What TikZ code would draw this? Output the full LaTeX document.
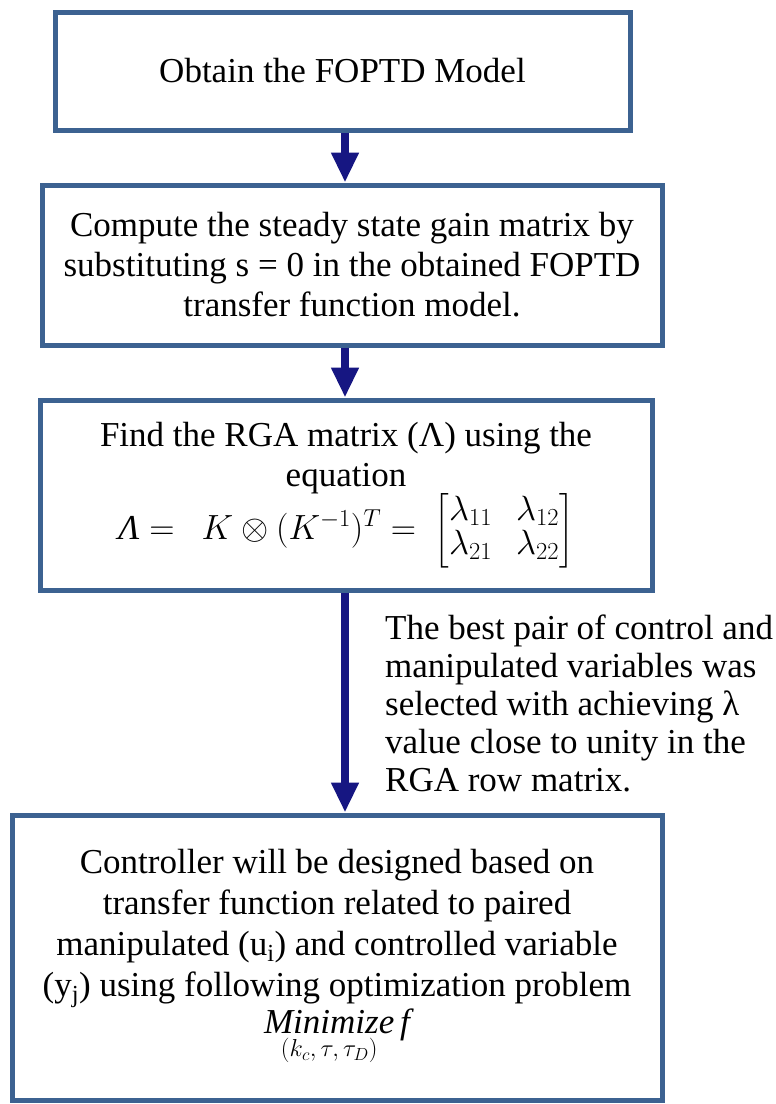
\RequirePackage{fix-cm}
\documentclass[tikz,border=0pt]{standalone}
\usepackage{amsmath}
\usepackage{fontspec}
\setmainfont{Liberation Serif}
\usetikzlibrary{arrows.meta,shadows}
\definecolor{boxblue}{RGB}{60,98,145}
\definecolor{arrowblue}{RGB}{22,22,130}
\begin{document}
\begin{tikzpicture}[x=1pt,y=-1pt,
  box/.style={draw=boxblue, line width=5pt, fill=white, inner sep=0pt, align=center,
    font=\fontsize{35}{40}\selectfont,
    drop shadow={shadow xshift=2pt, shadow yshift=-3pt, opacity=0.35, fill=gray}},
  flow/.style={draw=arrowblue, line width=8pt, -{Triangle[width=26pt,length=30pt,fill=arrowblue]}},
  note/.style={anchor=base west, align=left, inner sep=0pt, font=\fontsize{35}{38}\selectfont}]
\useasboundingbox (0,0) rectangle (776,1104);
\fill[white] (0,0) rectangle (776,1104);
\coordinate (ax) at (345,0);

\node[box, minimum width=575pt, minimum height=118pt] (b1) at (342.5,71)
  {Obtain the FOPTD Model};

\node[box, minimum width=620pt, minimum height=160pt] (b2) at (352,265)
  {Compute the steady state gain matrix by\\
   substituting s = 0 in the obtained FOPTD\\
   transfer function model.};

\node[box, minimum width=612pt, minimum height=190pt] (b3) at (346,495)
  {Find the RGA matrix (Λ) using the\\
   equation\\[-2pt]
   $\textit{Λ} =\ \ K \otimes (K^{-1})^T =\ \setlength{\arraycolsep}{12pt}\renewcommand{\arraystretch}{0.85}\begin{bmatrix}\lambda_{11} & \lambda_{12}\\ \lambda_{21} & \lambda_{22}\end{bmatrix}$};

\node[box, minimum width=650pt, minimum height=285pt, font=\fontsize{35}{41}\selectfont] (b4) at (337,957.5)
  {Controller will be designed based on\\
   transfer function related to paired\\
   manipulated (u\textsubscript{i}) and controlled variable\\
   (y\textsubscript{j}) using following optimization problem\\[-4pt]
   $\underset{\raisebox{-5pt}{$\scriptstyle(k_c,\,\tau,\,\tau_D)$}}{\textit{Minimize}}\, \textit{f}$};

\node[note] (txt) at (385,791)
  {The best pair of control and\\
   manipulated variables was\\
   selected with achieving λ\\
   value close to unity in the\\
   RGA row matrix.};

\draw[flow] (ax |- b1.south) -- (ax |- b2.north);
\draw[flow] (ax |- b2.south) -- (ax |- b3.north);
\draw[flow] (ax |- b3.south) -- (ax |- b4.north);
\end{tikzpicture}
\end{document}
